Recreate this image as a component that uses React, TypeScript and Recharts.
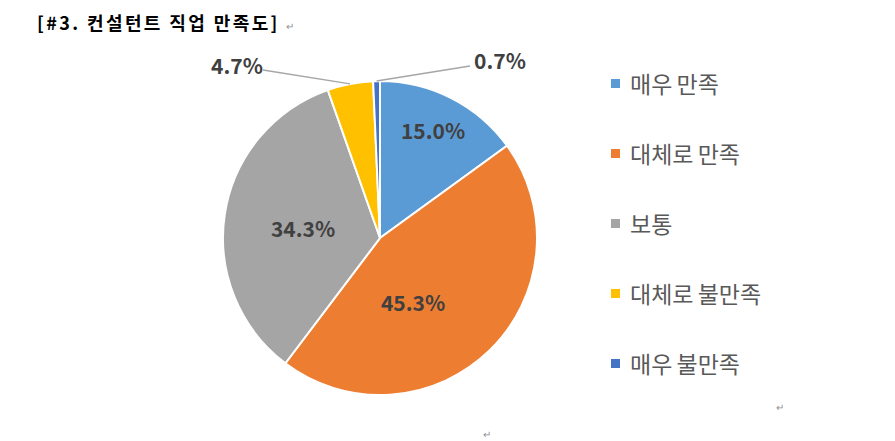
import React from "react";
import { PieChart, Pie, Cell } from "recharts";

const categories = ["매우 만족", "대체로 만족", "보통", "대체로 불만족", "매우 불만족"];
const values = [15.0, 45.3, 34.3, 4.7, 0.7];
const colors = ["#5B9BD5", "#ED7D31", "#A5A5A5", "#FFC000", "#4472C4"];
const title = "[#3. 컨설턴트 직업 만족도]";

const data = categories.map((name, i) => ({ name, value: values[i] }));

// label placement offsets relative to pie center (layout only)
const labelOffsets = [
  { dx: 53, dy: -108 },
  { dx: 33, dy: 64 },
  { dx: -77, dy: -10 },
  { dx: -143, dy: -173, lineX: -117, lineY: -168 },
  { dx: 120, dy: -178, lineX: 90, lineY: -172 },
];

const FONT = "'Noto Sans CJK KR', 'Noto Sans', sans-serif";
const RAD = Math.PI / 180;

const renderLabel = (props: any) => {
  const { cx, cy, midAngle, outerRadius, index, value } = props;
  const o = labelOffsets[index];
  const x = cx + o.dx;
  const y = cy + o.dy;
  const txt = `${Number(value).toFixed(1)}%`;
  let line = null;
  if (o.lineX !== undefined) {
    const ex = cx + outerRadius * Math.cos(-midAngle * RAD);
    const ey = cy + outerRadius * Math.sin(-midAngle * RAD);
    line = (
      <line
        x1={cx + o.lineX}
        y1={cy + o.lineY}
        x2={ex}
        y2={ey}
        stroke="#A6A6A6"
        strokeWidth={1.5}
      />
    );
  }
  return (
    <g key={`lbl-${index}`}>
      {line}
      <text
        x={x}
        y={y}
        textAnchor="middle"
        dominantBaseline="central"
        fill="#404040"
        fontSize={21}
        fontWeight={700}
        fontFamily={FONT}
      >
        {txt}
      </text>
    </g>
  );
};

export default function App() {
  return (
    <div
      style={{
        position: "absolute",
        left: 0,
        top: 0,
        width: 895,
        height: 441,
        background: "#ffffff",
        overflow: "hidden",
      }}
    >
      <div
        style={{
          position: "absolute",
          left: 37,
          top: 9,
          fontFamily: FONT,
          fontWeight: 700,
          fontSize: 18,
          letterSpacing: 2.4,
          color: "#000",
          whiteSpace: "nowrap",
        }}
      >
        {title}
        <span style={{ fontSize: 10, fontWeight: 400, color: "#909090", marginLeft: 6 }}>↵</span>
      </div>
      <span style={{ position: "absolute", left: 776, top: 399, fontSize: 10, color: "#909090", fontFamily: FONT }}>↵</span>
      <span style={{ position: "absolute", left: 483, top: 426, fontSize: 10, color: "#909090", fontFamily: FONT }}>↵</span>
      <PieChart
        width={895}
        height={441}
        margin={{ top: 0, right: 0, bottom: 0, left: 0 }}
        style={{ position: "absolute", left: 0, top: 0 }}
      >
        <Pie
          data={data}
          dataKey="value"
          nameKey="name"
          cx={380}
          cy={238}
          outerRadius={157}
          startAngle={90}
          endAngle={-270}
          stroke="#ffffff"
          strokeWidth={2}
          label={renderLabel}
          labelLine={false}
          isAnimationActive={false}
        >
          {data.map((d, i) => (
            <Cell key={d.name} fill={colors[i]} />
          ))}
        </Pie>
      </PieChart>
      <div style={{ position: "absolute", left: 611, top: 48, fontFamily: FONT }}>
        {categories.map((name, i) => (
          <div key={name} style={{ display: "flex", alignItems: "center", height: 70 }}>
            <span
              style={{
                display: "inline-block",
                width: 9,
                height: 9,
                background: colors[i],
                marginRight: 10,
              }}
            />
            <span style={{ fontSize: 23, wordSpacing: -1, color: "#595959", whiteSpace: "nowrap" }}>
              {name}
            </span>
          </div>
        ))}
      </div>
    </div>
  );
}
